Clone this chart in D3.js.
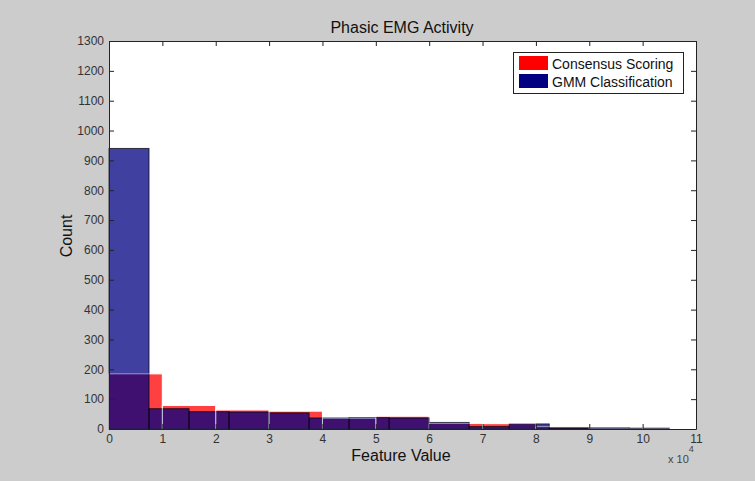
<!DOCTYPE html>
<html>
<head>
<meta charset="utf-8">
<script src="https://cdn.jsdelivr.net/npm/d3@7"></script>
<style>
  html, body { margin: 0; padding: 0; background: #cccccc; }
  svg { display: block; }
  text { font-family: "Liberation Sans", Arial, Helvetica, sans-serif; }
</style>
</head>
<body>
<svg id="chart" width="755" height="481"></svg>
<script>
// Histogram bin edges (feature value) and counts for each scoring method
const gmmEdges = [0, 7500, 15000, 22500, 30000, 37500, 45000, 52500, 60000, 67500, 75000, 82500, 90000, 97500, 105000];
const gmmCounts = [940, 68, 58, 57, 54, 37, 38, 37, 22, 8, 17, 3, 4, 3];

const consensusEdges = [0, 10000, 20000, 30000, 40000, 50000, 60000, 70000, 80000, 90000, 100000, 110000];
const consensusCounts = [185, 79, 64, 60, 36, 43, 19, 18, 8, 3, 3];

const xTickValues = [0, 10000, 20000, 30000, 40000, 50000, 60000, 70000, 80000, 90000, 100000, 110000];
const xTickLabels = ["0", "1", "2", "3", "4", "5", "6", "7", "8", "9", "10", "11"];
const yTickValues = [0, 100, 200, 300, 400, 500, 600, 700, 800, 900, 1000, 1100, 1200, 1300];

const seriesNames = ["Consensus Scoring", "GMM Classification"];
const seriesColors = ["#ff0000", "#000080"];

const svg = d3.select("#chart");
const plotLeft = 109, plotRight = 696, plotTop = 41, plotBottom = 429;

const x = d3.scaleLinear().domain([0, 110000]).range([plotLeft, plotRight]);
const y = d3.scaleLinear().domain([0, 1300]).range([plotBottom, plotTop]);

// plot background
svg.append("rect")
  .attr("x", plotLeft).attr("y", plotTop)
  .attr("width", plotRight - plotLeft).attr("height", plotBottom - plotTop)
  .attr("fill", "#ffffff");

function bins(edges, counts) {
  return counts.map((c, i) => ({ x0: edges[i], x1: edges[i + 1], count: c }));
}
const consensusBins = bins(consensusEdges, consensusCounts);
const gmmBins = bins(gmmEdges, gmmCounts);

// consensus faces (translucent red)
svg.append("g").selectAll("rect").data(consensusBins).join("rect")
  .attr("x", d => x(d.x0)).attr("y", d => y(d.count))
  .attr("width", d => x(d.x1) - x(d.x0)).attr("height", d => y(0) - y(d.count))
  .attr("fill", seriesColors[0]).attr("fill-opacity", 0.75)
  .attr("stroke", "#ffffff").attr("stroke-width", 1);

// GMM faces (translucent navy) on top
svg.append("g").selectAll("rect").data(gmmBins).join("rect")
  .attr("x", d => x(d.x0)).attr("y", d => y(d.count))
  .attr("width", d => x(d.x1) - x(d.x0)).attr("height", d => y(0) - y(d.count))
  .attr("fill", seriesColors[1]).attr("fill-opacity", 0.75)
  .attr("stroke", "#000000").attr("stroke-opacity", 0.7).attr("stroke-width", 1);

// faint consensus edges showing through
svg.append("g").selectAll("path").data(consensusBins).join("path")
  .attr("d", d => {
    const x0 = x(d.x0), x1 = x(d.x1), yt = y(d.count), yb = y(0);
    return `M${x0},${yb}V${yt}H${x1}V${yb}`;
  })
  .attr("fill", "none").attr("stroke", "#ffffff").attr("stroke-opacity", 0.45).attr("stroke-width", 1);

// axes with inward ticks on all four sides
const tickColor = "#222222";
const xAxisB = d3.axisBottom(x).tickValues(xTickValues).tickFormat((d, i) => xTickLabels[i]).tickSizeInner(-5).tickSizeOuter(0).tickPadding(5);
const xAxisT = d3.axisTop(x).tickValues(xTickValues).tickFormat("").tickSizeInner(-5).tickSizeOuter(0);
const yAxisL = d3.axisLeft(y).tickValues(yTickValues).tickFormat(d3.format("d")).tickSizeInner(-5).tickSizeOuter(0).tickPadding(5);
const yAxisR = d3.axisRight(y).tickValues(yTickValues).tickFormat("").tickSizeInner(-5).tickSizeOuter(0);

function styleAxis(g) {
  g.select(".domain").attr("stroke", tickColor);
  g.selectAll(".tick line").attr("stroke", tickColor);
  g.selectAll(".tick text").attr("fill", "#333333").attr("font-size", 12)
    .attr("font-family", '"Liberation Sans", Arial, sans-serif');
}
svg.append("g").attr("transform", `translate(0,${plotBottom})`).call(xAxisB).call(styleAxis);
svg.append("g").attr("transform", `translate(0,${plotTop})`).call(xAxisT).call(styleAxis);
svg.append("g").attr("transform", `translate(${plotLeft},0)`).call(yAxisL).call(styleAxis);
svg.append("g").attr("transform", `translate(${plotRight},0)`).call(yAxisR).call(styleAxis);

// exponent label
const expo = svg.append("text").attr("x", 668).attr("y", 463)
  .attr("font-size", 11).attr("fill", "#444444");
expo.append("tspan").text("x 10");
expo.append("tspan").attr("dy", -11).attr("font-size", 9).text("4");

// title and axis labels
svg.append("text").attr("x", 402).attr("y", 33).attr("text-anchor", "middle")
  .attr("font-size", 16).attr("fill", "#111111").text("Phasic EMG Activity");
svg.append("text").attr("x", 401).attr("y", 461).attr("text-anchor", "middle")
  .attr("font-size", 16).attr("fill", "#111111").text("Feature Value");
svg.append("text").attr("transform", "translate(72,236) rotate(-90)").attr("text-anchor", "middle")
  .attr("font-size", 16).attr("fill", "#111111").text("Count");

// legend
const lg = svg.append("g");
lg.append("rect").attr("x", 513.5).attr("y", 52.5).attr("width", 170).attr("height", 41)
  .attr("fill", "#ffffff").attr("stroke", "#222222");
seriesNames.forEach((name, i) => {
  lg.append("rect").attr("x", 519).attr("y", 56 + i * 18).attr("width", 29).attr("height", 14)
    .attr("fill", seriesColors[i]);
  lg.append("text").attr("x", 552).attr("y", 69 + i * 18)
    .attr("font-size", 14).attr("fill", "#111111").text(name);
});
</script>
</body>
</html>
